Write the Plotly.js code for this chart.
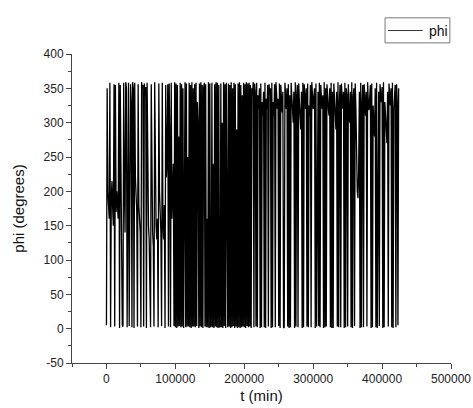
<!DOCTYPE html>
<html>
<head>
<meta charset="utf-8">
<script src="https://cdn.plot.ly/plotly-3.0.1.min.js"></script>
<style>
  html, body { margin: 0; padding: 0; background: #fff; }
  #chart { width: 473px; height: 408px; }
</style>
</head>
<body>
<div id="chart"></div>
<script>
// Sample times (min), one sample every 1000 min
const tMin = [
  0, 1000, 2000, 3000, 4000, 5000, 6000, 7000, 8000, 9000, 10000, 11000, 12000, 13000, 14000, 15000, 16000, 17000, 18000, 19000,
  20000, 21000, 22000, 23000, 24000, 25000, 26000, 27000, 28000, 29000, 30000, 31000, 32000, 33000, 34000, 35000, 36000, 37000, 38000, 39000,
  40000, 41000, 42000, 43000, 44000, 45000, 46000, 47000, 48000, 49000, 50000, 51000, 52000, 53000, 54000, 55000, 56000, 57000, 58000, 59000,
  60000, 61000, 62000, 63000, 64000, 65000, 66000, 67000, 68000, 69000, 70000, 71000, 72000, 73000, 74000, 75000, 76000, 77000, 78000, 79000,
  80000, 81000, 82000, 83000, 84000, 85000, 86000, 87000, 88000, 89000, 90000, 91000, 92000, 93000, 94000, 95000, 96000, 97000, 98000, 99000,
  100000, 101000, 102000, 103000, 104000, 105000, 106000, 107000, 108000, 109000, 110000, 111000, 112000, 113000, 114000, 115000, 116000, 117000, 118000, 119000,
  120000, 121000, 122000, 123000, 124000, 125000, 126000, 127000, 128000, 129000, 130000, 131000, 132000, 133000, 134000, 135000, 136000, 137000, 138000, 139000,
  140000, 141000, 142000, 143000, 144000, 145000, 146000, 147000, 148000, 149000, 150000, 151000, 152000, 153000, 154000, 155000, 156000, 157000, 158000, 159000,
  160000, 161000, 162000, 163000, 164000, 165000, 166000, 167000, 168000, 169000, 170000, 171000, 172000, 173000, 174000, 175000, 176000, 177000, 178000, 179000,
  180000, 181000, 182000, 183000, 184000, 185000, 186000, 187000, 188000, 189000, 190000, 191000, 192000, 193000, 194000, 195000, 196000, 197000, 198000, 199000,
  200000, 201000, 202000, 203000, 204000, 205000, 206000, 207000, 208000, 209000, 210000, 211000, 212000, 213000, 214000, 215000, 216000, 217000, 218000, 219000,
  220000, 221000, 222000, 223000, 224000, 225000, 226000, 227000, 228000, 229000, 230000, 231000, 232000, 233000, 234000, 235000, 236000, 237000, 238000, 239000,
  240000, 241000, 242000, 243000, 244000, 245000, 246000, 247000, 248000, 249000, 250000, 251000, 252000, 253000, 254000, 255000, 256000, 257000, 258000, 259000,
  260000, 261000, 262000, 263000, 264000, 265000, 266000, 267000, 268000, 269000, 270000, 271000, 272000, 273000, 274000, 275000, 276000, 277000, 278000, 279000,
  280000, 281000, 282000, 283000, 284000, 285000, 286000, 287000, 288000, 289000, 290000, 291000, 292000, 293000, 294000, 295000, 296000, 297000, 298000, 299000,
  300000, 301000, 302000, 303000, 304000, 305000, 306000, 307000, 308000, 309000, 310000, 311000, 312000, 313000, 314000, 315000, 316000, 317000, 318000, 319000,
  320000, 321000, 322000, 323000, 324000, 325000, 326000, 327000, 328000, 329000, 330000, 331000, 332000, 333000, 334000, 335000, 336000, 337000, 338000, 339000,
  340000, 341000, 342000, 343000, 344000, 345000, 346000, 347000, 348000, 349000, 350000, 351000, 352000, 353000, 354000, 355000, 356000, 357000, 358000, 359000,
  360000, 361000, 362000, 363000, 364000, 365000, 366000, 367000, 368000, 369000, 370000, 371000, 372000, 373000, 374000, 375000, 376000, 377000, 378000, 379000,
  380000, 381000, 382000, 383000, 384000, 385000, 386000, 387000, 388000, 389000, 390000, 391000, 392000, 393000, 394000, 395000, 396000, 397000, 398000, 399000,
  400000, 401000, 402000, 403000, 404000, 405000, 406000, 407000, 408000, 409000, 410000, 411000, 412000, 413000, 414000, 415000, 416000, 417000, 418000, 419000,
  420000, 421000, 422000, 423000, 424000
];

// Angle phi (degrees), wrapped into 0..360
const phiDeg = [
  5, 350, 200, 180, 160, 358, 2, 190, 215, 175, 150, 356, 3, 355, 170, 200, 185, 160, 358, 1,
  355, 180, 150, 5, 3, 358, 210, 140, 359, 350, 2, 345, 358, 4, 340, 356, 330, 2, 359, 350,
  1, 358, 220, 190, 170, 3, 356, 180, 160, 140, 2, 359, 350, 355, 3, 357, 340, 352, 1, 358,
  170, 150, 130, 5, 2, 356, 160, 140, 120, 3, 359, 180, 150, 130, 160, 2, 357, 200, 170, 140,
  4, 358, 150, 130, 180, 1, 355, 220, 250, 356, 3, 357, 280, 2, 358, 160, 200, 240, 4, 359,
  2, 357, 1, 355, 3, 280, 4, 358, 2, 356, 3, 350, 1, 340, 359, 2, 357, 3, 250, 3,
  358, 2, 355, 1, 359, 3, 350, 3, 356, 2, 358, 4, 330, 300, 1, 357, 3, 359, 2, 355,
  1, 350, 358, 3, 356, 2, 160, 2, 359, 1, 357, 2, 4, 358, 2, 240, 1, 356, 3, 359,
  2, 358, 1, 355, 2, 3, 357, 2, 300, 1, 359, 4, 356, 1, 358, 3, 2, 357, 3, 355,
  1, 359, 2, 350, 4, 358, 1, 356, 3, 290, 1, 357, 2, 359, 1, 355, 2, 340, 3, 358,
  2, 356, 1, 359, 4, 357, 2, 358, 3, 355, 1, 350, 340, 359, 2, 357, 345, 3, 358, 2,
  340, 320, 350, 1, 357, 2, 330, 310, 345, 2, 358, 1, 335, 320, 355, 3, 356, 340, 350, 1,
  358, 2, 330, 310, 356, 2, 359, 340, 320, 335, 4, 357, 1, 355, 330, 315, 345, 1, 2, 358,
  335, 320, 350, 3, 356, 1, 340, 2, 358, 330, 315, 300, 345, 1, 359, 3, 340, 355, 2, 357,
  330, 310, 290, 345, 1, 358, 2, 356, 335, 320, 350, 3, 357, 2, 325, 310, 355, 2, 359, 345,
  320, 338, 350, 1, 357, 3, 305, 345, 4, 358, 2, 355, 335, 320, 340, 1, 359, 2, 350, 3,
  356, 340, 320, 310, 350, 2, 358, 1, 345, 1, 357, 325, 305, 290, 345, 3, 359, 2, 330, 355,
  2, 357, 335, 320, 345, 1, 358, 2, 350, 340, 3, 356, 315, 300, 345, 2, 359, 1, 338, 350,
  4, 357, 320, 250, 200, 190, 230, 345, 1, 358, 2, 330, 355, 2, 356, 335, 310, 345, 3, 359,
  330, 318, 345, 355, 1, 357, 2, 325, 300, 280, 350, 2, 358, 1, 320, 345, 4, 356, 340, 330,
  352, 1, 359, 2, 330, 310, 290, 270, 345, 3, 357, 340, 325, 350, 2, 358, 1, 320, 345, 355,
  2, 356, 330, 5, 350
];

const xTickVals = [0, 100000, 200000, 300000, 400000, 500000];
const xTickText = ['0', '100000', '200000', '300000', '400000', '500000'];
const yTickVals = [-50, 0, 50, 100, 150, 200, 250, 300, 350, 400];
const yTickText = ['-50', '0', '50', '100', '150', '200', '250', '300', '350', '400'];
const seriesName = 'phi';

const font = 'Liberation Sans, Arial, sans-serif';

const trace = {
  x: tMin,
  y: phiDeg,
  type: 'scatter',
  mode: 'lines',
  name: seriesName,
  showlegend: false,
  line: { color: '#000', width: 1.3 }
};

// Boxed key in the top-right corner (paper coordinates)
const key = { x0: 0.826, x1: 0.997, y0: 1.036, y1: 1.117, lineX0: 0.834, lineX1: 0.925, midY: 1.076 };

const layout = {
  width: 473,
  height: 408,
  margin: { l: 72, r: 22, t: 54, b: 45 },
  paper_bgcolor: '#fff',
  plot_bgcolor: '#fff',
  font: { family: font, color: '#222' },
  showlegend: false,
  shapes: [
    { type: 'rect', xref: 'paper', yref: 'paper', x0: key.x0, x1: key.x1, y0: key.y0, y1: key.y1,
      line: { color: '#777', width: 1 }, fillcolor: '#fff', layer: 'above' },
    { type: 'line', xref: 'paper', yref: 'paper', x0: key.lineX0, x1: key.lineX1, y0: key.midY, y1: key.midY,
      line: { color: '#333', width: 1 }, layer: 'above' }
  ],
  annotations: [
    { xref: 'paper', yref: 'paper', x: key.lineX1 + 0.012, y: key.midY, xanchor: 'left', yanchor: 'middle',
      text: seriesName, showarrow: false, font: { size: 14, family: font, color: '#111' } }
  ],
  xaxis: {
    range: [-50000, 500000],
    tickmode: 'array', tickvals: xTickVals, ticktext: xTickText,
    showgrid: false, zeroline: false,
    showline: true, linecolor: '#444', linewidth: 1,
    ticks: 'outside', ticklen: 5, tickcolor: '#444',
    minor: { dtick: 50000, tick0: 0, ticks: 'outside', ticklen: 3, tickcolor: '#444', showgrid: false },
    tickfont: { size: 12, family: font, color: '#222' },
    title: { text: 't (min)', font: { size: 15, family: font, color: '#111' }, standoff: 5 },
    automargin: false
  },
  yaxis: {
    range: [-50, 400],
    tickmode: 'array', tickvals: yTickVals, ticktext: yTickText,
    showgrid: false, zeroline: false,
    showline: true, linecolor: '#444', linewidth: 1,
    ticks: 'outside', ticklen: 5, tickcolor: '#444',
    minor: { dtick: 25, tick0: 0, ticks: 'outside', ticklen: 3, tickcolor: '#444', showgrid: false },
    tickfont: { size: 12, family: font, color: '#222' },
    title: { text: 'phi (degrees)', font: { size: 15, family: font, color: '#111' }, standoff: 15 },
    automargin: false
  }
};

Plotly.newPlot('chart', [trace], layout, { displayModeBar: false, staticPlot: true });
</script>
</body>
</html>
